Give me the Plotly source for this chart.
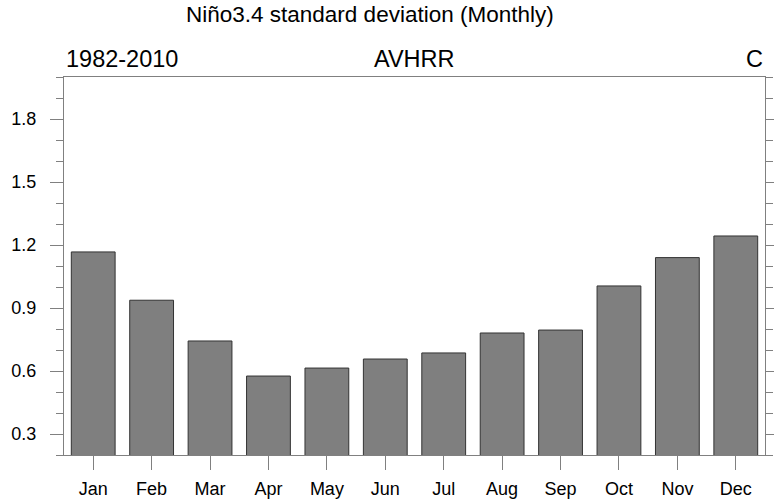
import plotly.graph_objects as go

months = ["Jan", "Feb", "Mar", "Apr", "May", "Jun", "Jul", "Aug", "Sep", "Oct", "Nov", "Dec"]
std_values = [1.167, 0.937, 0.743, 0.576, 0.614, 0.657, 0.686, 0.781, 0.795, 1.005, 1.140, 1.243]
y_ticks = [0.3, 0.6, 0.9, 1.2, 1.5, 1.8]

font_family = "Liberation Sans, Arial, Helvetica, sans-serif"
axis_col = "#808080"

fig = go.Figure()
fig.add_trace(go.Bar(
    x=list(range(len(months))), y=std_values, base=0,
    width=0.75,
    marker=dict(color="#7f7f7f", line=dict(color="#333333", width=1)),
))

fig.update_layout(
    width=774, height=503,
    margin=dict(l=64, r=9, t=77, b=48),
    plot_bgcolor="white", paper_bgcolor="white",
    showlegend=False,
    font=dict(family=font_family, color="black"),
)

fig.update_xaxes(
    range=[-0.5, 11.5], automargin=False,
    tickmode="array", tickvals=list(range(len(months))), ticktext=months,
    ticks="outside", ticklen=14, tickcolor=axis_col, tickwidth=1,
    ticklabelstandoff=3,
    showline=True, linecolor=axis_col, linewidth=1, mirror=True,
    showgrid=False, zeroline=False,
    tickfont=dict(size=18, family=font_family, color="black"),
)
fig.update_yaxes(
    range=[0.2, 2.0], automargin=False,
    tickmode="array", tickvals=y_ticks, ticktext=[f"{v:.1f}" for v in y_ticks],
    ticks="outside", ticklen=13, tickcolor=axis_col, tickwidth=1,
    ticklabelstandoff=10,
    minor=dict(dtick=0.1, tick0=0.2, ticks="outside", ticklen=7, tickcolor=axis_col, showgrid=False),
    showline=True, linecolor=axis_col, linewidth=1, mirror="allticks",
    showgrid=False, zeroline=False,
    tickfont=dict(size=18, family=font_family, color="black"),
)

fig.add_annotation(text="Niño3.4 standard deviation (Monthly)", xref="paper", yref="paper",
                   x=(370 - 64) / 701, y=1, yshift=63, xanchor="center", yanchor="middle",
                   showarrow=False, font=dict(size=22.5, family=font_family, color="black"))
fig.add_annotation(text="1982-2010", xref="paper", yref="paper", x=0, y=1, yshift=3,
                   xanchor="left", yanchor="bottom", showarrow=False,
                   font=dict(size=23.5, family=font_family, color="black"))
fig.add_annotation(text="AVHRR", xref="paper", yref="paper", x=0.5, y=1, yshift=3,
                   xanchor="center", yanchor="bottom", showarrow=False,
                   font=dict(size=23.5, family=font_family, color="black"))
fig.add_annotation(text="C", xref="paper", yref="paper", x=1, y=1, yshift=3,
                   xanchor="right", yanchor="bottom", showarrow=False,
                   font=dict(size=23.5, family=font_family, color="black"))

fig.write_html(
    "out.html",
    config={"responsive": False, "displayModeBar": False},
    post_script="document.body.style.margin='0';document.body.style.overflow='hidden';",
)
